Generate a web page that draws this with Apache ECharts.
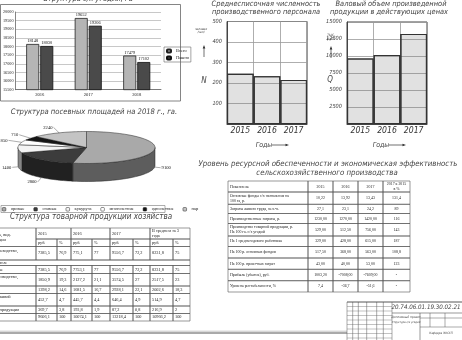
<!DOCTYPE html>
<html>
<head>
<meta charset="utf-8">
<script src="https://cdn.jsdelivr.net/npm/echarts@6/dist/echarts.min.js"></script>
<style>
html, body { margin: 0; padding: 0; background: #fff; }
#sheet { width: 462px; height: 340px; }
</style>
</head>
<body>
<div id="sheet"></div>
<script>
// структура с/х угодий
var landYears = ['2016', '2017', '2018'];
var landTotal = [18148, 19652, 17479];
var landArable = [18030, 19206, 17102];

// посевные площади 2018
var cropNames = ['яровые', 'озимые', 'кукуруза', 'многолетние', 'однолетние', 'пар'];
var cropArea = [9100, 2800, 1400, 850, 710, 2240];
var cropColors = ['#a9a9a9', '#3c3c3c', '#f4f4f4', '#ffffff', '#151515', '#c4c4c4'];

// численность и валовая продукция
var years = ['2015', '2016', '2017'];
var staff = [245, 233, 215];
var output = [9650, 10150, 13250];

// структура товарной продукции
var prodYears = ['2015', '2016', '2017', 'В среднем за 3\nгода'];
var prodUnits = ['руб.', '%'];
var prodNames = ['Растениеводство,\nвсего', 'в том числе', 'зерновые', 'Животноводство,\nвсего',
  'молоко', 'мясо в живой\nмассе', 'прочая продукция', 'Итого'];
var prodValues = [
  ['7385,5', '76,9', '775,1', '77', '9556,7', '72,2', '8231,8', '75'],
  null,
  ['7385,5', '76,9', '7753,1', '77', '9556,7', '72,2', '8231,8', '75'],
  ['1850,9', '19,3', '2127,2', '21,1', '3574,5', '27', '2517,5', '23'],
  ['1398,2', '14,6', '1681,5', '16,7', '2928,1', '22,1', '2002,6', '18,3'],
  ['452,7', '4,7', '445,7', '4,4', '646,4', '4,9', '514,9', '4,7'],
  ['369,7', '3,8', '193,8', '1,9', '87,2', '0,8', '216,9', '2'],
  ['9606,1', '100', '10074,1', '100', '13218,4', '100', '10966,2', '100']
];

// эффективность
var effHead = ['Показатель', '2015', '2016', '2017', '2017 к 2015\nв %'];
var effNames = ['Основные фонды с/х назначения на\n100 га, р.', 'Затраты живого труда, чел.-ч.',
  'Производственные затраты, р.', 'Производство товарной продукции, р.\nНа 100 га. с/х угодий',
  'На 1 среднегодового работника', 'На 100 р. основных фондов', 'На 100 р. произ-ных затрат',
  'Прибыль (убыток), руб.', 'Уровень рентабельности, %'];
var effValues = [
  ['10,22', '13,92', '13,43', '131,4'],
  ['27,1', '23,1', '24,2', '89'],
  ['1230,00', '1270,00', '1420,00', '116'],
  ['529,00', '512,50', '756,00', '143'],
  ['329,00', '428,00', '615,00', '187'],
  ['517,50', '368,00', '563,00', '108,8'],
  ['43,00', '40,00', '53,00', '123'],
  ['1003,20', '-7008,00', '-7609,00', '-'],
  ['7,4', '-36,7', '-51,6', '-']
];

var ital = '"Liberation Sans Narrow", "DejaVu Sans Condensed", sans-serif';
var serif = '"Liberation Serif", serif';

function txt(x, y, s, size, extra) {
  var st = {
    text: s, fontSize: size, fontFamily: ital, fontStyle: 'italic',
    fill: '#444', align: 'center', verticalAlign: 'middle'
  };
  for (var k in extra) st[k] = extra[k];
  return { type: 'text', x: x, y: y, silent: true, style: st };
}
function ln(x1, y1, x2, y2, w, c) {
  return { type: 'line', silent: true, shape: { x1: x1, y1: y1, x2: x2, y2: y2 },
    style: { stroke: c || '#444', lineWidth: w || 0.6 } };
}
function arrowUp(x, y0, y1) {
  return [ln(x, y0, x, y1, 0.7, '#333'),
    { type: 'polygon', silent: true, shape: { points: [[x, y1 - 2], [x - 1.3, y1 + 1.5], [x + 1.3, y1 + 1.5]] },
      style: { fill: '#333' } }];
}
function arrowRight(x0, x1, y) {
  return [ln(x0, y, x1, y, 0.7, '#333'),
    { type: 'polygon', silent: true, shape: { points: [[x1 + 2, y], [x1 - 1.5, y - 1.3], [x1 - 1.5, y + 1.3]] },
      style: { fill: '#333' } }];
}

// draws table cells {c0,c1,r0,r1,t,al}
function table(cells, colX, rowY, size) {
  var out = [];
  cells.forEach(function (c) {
    var x0 = colX[c.c0], x1 = colX[c.c1], y0 = rowY[c.r0], y1 = rowY[c.r1];
    out.push({ type: 'rect', silent: true, shape: { x: x0, y: y0, width: x1 - x0, height: y1 - y0 },
      style: { fill: 'none', stroke: '#555', lineWidth: 0.6 } });
    if (c.t) {
      out.push(txt(c.al === 'left' ? x0 + 2 : (x0 + x1) / 2, (y0 + y1) / 2, c.t, size,
        { fontFamily: serif, fontStyle: 'normal', fill: '#222', align: c.al || 'center', lineHeight: size * 1.2 }));
    }
  });
  return out;
}

// left table
var prodCols = [-16, 36, 57, 71, 92, 110, 133, 150, 173, 190];
var prodRowsY = [228, 239, 246.5, 260, 265.5, 273.5, 286, 293.5, 306, 313.5, 321];
var prodCells = [{ c0: 0, c1: 1, r0: 0, r1: 2, t: 'Отрасль, вид.\nпродукции', al: 'left' }];
prodYears.forEach(function (y, i) {
  prodCells.push({ c0: 1 + i * 2, c1: 3 + i * 2, r0: 0, r1: 1, t: y, al: 'left' });
  prodUnits.forEach(function (u, j) {
    prodCells.push({ c0: 1 + i * 2 + j, c1: 2 + i * 2 + j, r0: 1, r1: 2, t: u, al: 'left' });
  });
});
prodNames.forEach(function (n, r) {
  if (!prodValues[r]) {
    prodCells.push({ c0: 0, c1: 9, r0: r + 2, r1: r + 3, t: n, al: 'left' });
    return;
  }
  prodCells.push({ c0: 0, c1: 1, r0: r + 2, r1: r + 3, t: n, al: 'left' });
  prodValues[r].forEach(function (v, j) {
    prodCells.push({ c0: j + 1, c1: j + 2, r0: r + 2, r1: r + 3, t: v, al: 'left' });
  });
});

// right table
var effCols = [228, 308, 333, 358, 383, 410];
var effRowsY = [181, 192, 204.3, 213.5, 223.5, 236, 246.5, 258, 269.3, 280.7, 292];
var effCells = [];
effHead.forEach(function (h, j) {
  effCells.push({ c0: j, c1: j + 1, r0: 0, r1: 1, t: h, al: j ? 'center' : 'left' });
});
effNames.forEach(function (n, r) {
  effCells.push({ c0: 0, c1: 1, r0: r + 1, r1: r + 2, t: n, al: 'left' });
  effValues[r].forEach(function (v, j) {
    effCells.push({ c0: j + 1, c1: j + 2, r0: r + 1, r1: r + 2, t: v });
  });
});

// 3D pie slice (elliptic)
var pie = { cx: 86.5, cy: 147.5, rx: 68.5, ry: 16, d: 18 };
function shade(hex, f) {
  var n = parseInt(hex.slice(1), 16);
  var r = Math.round(((n >> 16) & 255) * f), g = Math.round(((n >> 8) & 255) * f), b = Math.round((n & 255) * f);
  return 'rgb(' + r + ',' + g + ',' + b + ')';
}
function ell(a, dy) {
  return [pie.cx + pie.rx * Math.cos(a), pie.cy + pie.ry * Math.sin(a) + (dy || 0)];
}
function sliceRender(i) {
  return function (params, api) {
    var total = cropArea.reduce(function (s, v) { return s + v; }, 0);
    var before = 0;
    for (var k = 0; k < i; k++) before += cropArea[k];
    var a0 = -Math.PI / 2 + 2 * Math.PI * before / total;
    var a1 = a0 + 2 * Math.PI * api.value(0) / total;
    var col = cropColors[i];
    var kids = [];
    var f0 = Math.max(a0, 0), f1 = Math.min(a1, Math.PI);
    if (f0 < f1) {
      var side = [], n = 30, s;
      for (s = 0; s <= n; s++) side.push(ell(f0 + (f1 - f0) * s / n));
      for (s = n; s >= 0; s--) side.push(ell(f0 + (f1 - f0) * s / n, pie.d));
      kids.push({ type: 'polygon', shape: { points: side },
        style: { fill: shade(col, 0.55), stroke: '#222', lineWidth: 0.5 } });
    }
    var top = [[pie.cx, pie.cy]], m = 40;
    for (var t = 0; t <= m; t++) top.push(ell(a0 + (a1 - a0) * t / m));
    kids.push({ type: 'polygon', shape: { points: top },
      style: { fill: col, stroke: '#222', lineWidth: 0.5 } });
    // label
    var mid = (a0 + a1) / 2, c = Math.cos(mid), sn = Math.sin(mid);
    var e = ell(mid, sn >= 0 ? pie.d : 0);
    var off = sn >= 0 ? 6 : 14;
    var lp = [e[0] + c * off, e[1] + sn * 6];
    kids.push({ type: 'line', shape: { x1: e[0], y1: e[1], x2: lp[0], y2: lp[1] },
      style: { stroke: '#333', lineWidth: 0.4 } });
    kids.push({ type: 'text', x: lp[0] + (c > 0.3 ? 1 : c < -0.3 ? -1 : 0), y: lp[1],
      style: { text: String(api.value(0)), fontSize: 4.6, fontFamily: serif, fill: '#111',
        align: c > 0.3 ? 'left' : c < -0.3 ? 'right' : 'center', verticalAlign: 'middle' } });
    return { type: 'group', children: kids };
  };
}

var graphics = [
  { type: 'rect', silent: true, shape: { x: 0.5, y: 4.5, width: 180, height: 96.5 },
    style: { fill: 'none', stroke: '#666', lineWidth: 0.8 } },
  txt(88, -1, 'Структура с/х угодий, га', 7.6),
  txt(94, 111.7, 'Структура посевных площадей на 2018 г., га.', 7.6),
  txt(91, 217, 'Структура товарной продукции хозяйства', 8),
  txt(266, 4, 'Среднесписочная численность', 7.4),
  txt(266, 11.8, 'производственного персонала', 7.4),
  txt(391, 4, 'Валовый объем произведенной', 7.4),
  txt(389, 11.8, 'продукции в действующих ценах', 7.4),
  txt(328, 164, 'Уровень ресурсной обеспеченности и экономическая эффективность', 7.8),
  txt(327, 173.3, 'сельскохозяйственного производства', 7.8),
  txt(201, 30.5, 'человек\n/чел/', 3.2, { lineHeight: 3.6 }),
  txt(204, 81, 'N', 8),
  txt(331, 37, 'тыс.\nруб.', 4, { lineHeight: 4.6 }),
  txt(330, 80, 'Q', 8),
  txt(264, 145, 'Годы', 7),
  txt(381, 145, 'Годы', 7),
  // pie legend frame
  { type: 'rect', silent: true, shape: { x: 1, y: 205.5, width: 164, height: 7 },
    style: { fill: 'none', stroke: '#777', lineWidth: 0.6 } },
  // sheet bottom line
  ln(0, 333, 347, 333, 1, '#555'),
  ln(0, 331.2, 347, 331.2, 0.5, '#888')
];
graphics = graphics.concat(arrowUp(204, 57, 47), arrowUp(331, 58, 48),
  arrowRight(272, 287, 145), arrowRight(389, 404, 145));
graphics = graphics.concat(table(prodCells, prodCols, prodRowsY, 4.3));
graphics = graphics.concat(table(effCells, effCols, effRowsY, 3.9));

// title block (stamp)
var stampX = [347, 352.7, 358.3, 366.7, 376.7, 383.3, 392];
stampX.forEach(function (x) { graphics.push(ln(x, 302, x, 340, 0.5, '#555')); });
for (var yy = 306.5; yy < 340; yy += 4.5) graphics.push(ln(347, yy, 392, yy, 0.4, '#666'));
graphics.push(ln(347, 302, 462, 302, 0.9, '#444'));
graphics.push(ln(392, 313, 462, 313, 0.6, '#555'));
graphics.push(ln(420, 313, 420, 340, 0.6, '#555'));
graphics.push(ln(420, 318, 462, 318, 0.5, '#555'));
graphics.push(ln(420, 327, 462, 327, 0.5, '#555'));
graphics.push(ln(430, 313, 430, 327, 0.5, '#555'));
graphics.push(ln(445, 313, 445, 327, 0.5, '#555'));
graphics.push(txt(426, 307.5, '20.74.06.01.19.30.02.21', 6.2));
graphics.push(txt(406, 317.5, 'Дипломный проект', 3.2, { fontStyle: 'italic' }));
graphics.push(txt(406, 322, 'Структура с/х угодий', 2.8));
graphics.push(txt(441, 333, 'Кафедра ЭОСХП', 3));

var grayBar = {
  color: 'rgba(120,120,120,0.2)', borderColor: '#333', borderWidth: 1.1,
  decal: { symbol: 'circle', symbolSize: 0.4, dashArrayX: [2, 0], dashArrayY: [2, 0], color: 'rgba(0,0,0,0.12)' }
};
function plain(v) { return String(v); }
var smallAxisLabel = { fontSize: 5.6, fontFamily: ital, fontStyle: 'italic', color: '#444', margin: 5,
  showMinLabel: false, formatter: plain };
var yearLabel = { fontSize: 8.6, fontFamily: ital, fontStyle: 'italic', color: '#333', margin: 2, interval: 0 };

var series = [
  { name: 'Всего', type: 'bar', xAxisIndex: 0, yAxisIndex: 0, data: landTotal, barWidth: 13, barGap: '8%',
    itemStyle: { color: '#b5b5b5', borderColor: '#222', borderWidth: 0.8 },
    label: { show: true, position: 'top', distance: 1, fontSize: 4.4, fontFamily: serif, color: '#111' } },
  { name: 'Пашня', type: 'bar', xAxisIndex: 0, yAxisIndex: 0, data: landArable, barWidth: 13,
    itemStyle: { color: '#4a4a4a', borderColor: '#111', borderWidth: 0.8 },
    label: { show: true, position: 'top', distance: 1, fontSize: 4.4, fontFamily: serif, color: '#111' } },
  { name: 'staff', type: 'bar', xAxisIndex: 1, yAxisIndex: 1, data: staff, barCategoryGap: '0%', itemStyle: grayBar },
  { name: 'output', type: 'bar', xAxisIndex: 2, yAxisIndex: 2, data: output, barCategoryGap: '0%', itemStyle: grayBar }
];
cropNames.forEach(function (n, i) {
  series.push({ name: n, type: 'custom', coordinateSystem: 'none', data: [cropArea[i]],
    itemStyle: { color: cropColors[i], borderColor: '#222', borderWidth: 0.5 },
    renderItem: sliceRender(i), silent: true, animation: false });
});

var option = {
  animation: false,
  backgroundColor: '#fff',
  grid: [
    { left: 11, top: 12, width: 150, height: 77.7 },
    { left: 227, top: 21.5, width: 80, height: 102.5, show: true, borderColor: '#444', borderWidth: 1 },
    { left: 347, top: 22, width: 80, height: 102, show: true, borderColor: '#444', borderWidth: 1 }
  ],
  legend: [
    { data: ['Всего', 'Пашня'], orient: 'vertical', left: 164, top: 47, itemWidth: 4, itemHeight: 3,
      itemGap: 2, padding: [1.5, 2], borderColor: '#666', borderWidth: 0.6, selectedMode: false,
      textStyle: { fontSize: 4.4, fontFamily: serif, color: '#222' } },
    { data: cropNames, left: 2, top: 206.8, itemWidth: 3.6, itemHeight: 3.6, itemGap: 9, padding: 0,
      selectedMode: false, itemStyle: { borderColor: '#222', borderWidth: 0.5 },
      textStyle: { fontSize: 4.5, fontFamily: serif, color: '#222' } }
  ],
  xAxis: [
    { gridIndex: 0, type: 'category', data: landYears,
      axisLine: { lineStyle: { color: '#666', width: 0.8 } }, axisTick: { lineStyle: { color: '#666' }, length: 2 },
      axisLabel: { fontSize: 4.6, fontFamily: serif, color: '#222', margin: 3 } },
    { gridIndex: 1, type: 'category', data: years, axisTick: { show: false },
      axisLine: { lineStyle: { color: '#444', width: 1 } },
      splitLine: { show: true, lineStyle: { color: '#999', width: 0.8 } }, axisLabel: yearLabel },
    { gridIndex: 2, type: 'category', data: years, axisTick: { show: false },
      axisLine: { lineStyle: { color: '#444', width: 1 } },
      splitLine: { show: true, lineStyle: { color: '#999', width: 0.8 } }, axisLabel: yearLabel }
  ],
  yAxis: [
    { gridIndex: 0, type: 'value', min: 15500, max: 20000, interval: 500,
      axisLine: { show: true, lineStyle: { color: '#666', width: 0.8 } },
      splitLine: { lineStyle: { color: '#b0b0b0', width: 0.7 } },
      axisLabel: { fontSize: 4.2, fontFamily: serif, color: '#222', margin: 2, formatter: plain } },
    { gridIndex: 1, type: 'value', min: 0, max: 500, interval: 100,
      axisLine: { show: true, lineStyle: { color: '#444' } },
      splitLine: { lineStyle: { color: '#999', width: 0.8 } }, axisLabel: smallAxisLabel },
    { gridIndex: 2, type: 'value', min: 0, max: 15000, interval: 2500,
      axisLine: { show: true, lineStyle: { color: '#444' } },
      splitLine: { lineStyle: { color: '#999', width: 0.8 } }, axisLabel: smallAxisLabel }
  ],
  series: series,
  graphic: { elements: graphics }
};

var chart = echarts.init(document.getElementById('sheet'));
chart.setOption(option);
</script>
</body>
</html>
